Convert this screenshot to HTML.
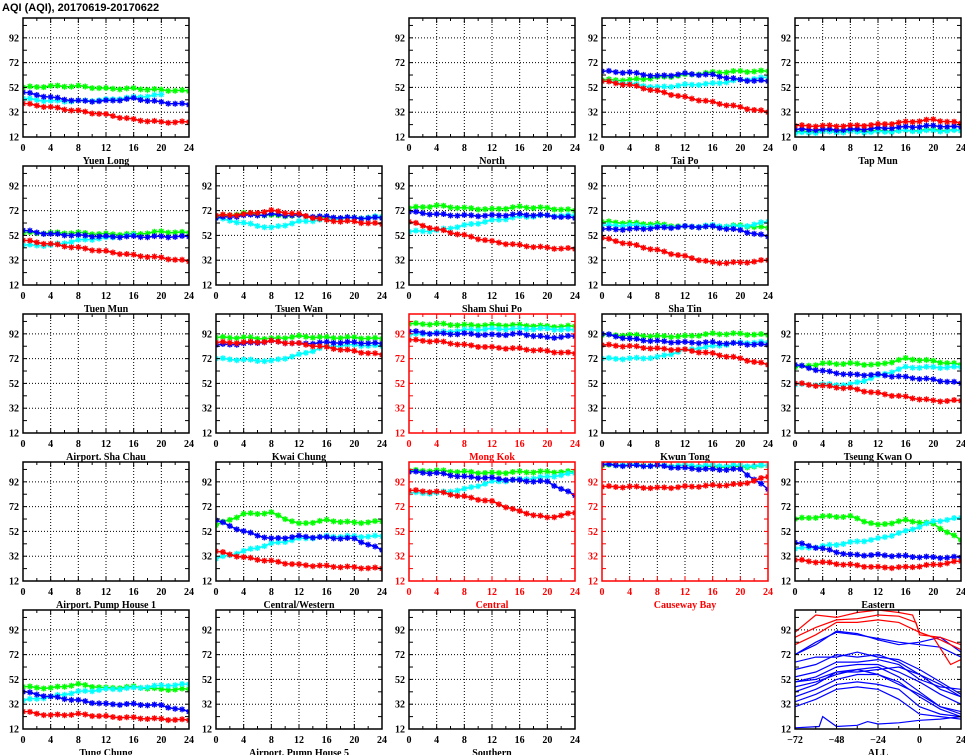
<!DOCTYPE html>
<html><head><meta charset="utf-8"><style>
body{margin:0;background:#fff;}
svg{display:block;font-family:"Liberation Serif",serif;font-weight:bold;}
</style></head><body>
<svg id="s" width="965" height="755" xmlns="http://www.w3.org/2000/svg"></svg>
<script>
const S=document.getElementById('s');let h='';
h+='<text x="2" y="11" font-size="11" font-family="Liberation Sans,sans-serif">AQI (AQI), 20170619-20170622</text>';
const colX=[23,216,409,602,795],rowY=[18,166,314,462,610],W=166,H=119;
const Y0=12,Y1=108;
const P=[
[0,0,'Yuen Long',0,{g:[52,53,53,51,51,50,49],b:[48,44,41,41,43,40,38],c:[43,41,41,42,44,46],r:[39,36,33,30,26,24,24]}],
[0,2,'North',0,null],
[0,3,'Tai Po',0,{g:[58,58,60,62,64,65,65],b:[65,64,61,63,62,58,57],c:[57,55,52,54,55,58,60],r:[57,54,49,44,40,36,32]}],
[0,4,'Tap Mun',0,{g:[16,17,17,17,17,18,17],c:[15,16,16,16,17,17,17],b:[18,18,18,19,20,21,20],r:[21,21,21,22,24,26,23]}],
[1,0,'Tuen Mun',0,{g:[54,54,54,53,53,55,54],c:[44,44,48,50,52],b:[56,53,52,51,51,51,51],r:[48,45,42,39,36,34,31]}],
[1,1,'Tsuen Wan',0,{g:[67,70,68,68,66,66,67],c:[66,62,58,63,65,66,67],b:[66,68,69,68,67,66,66],r:[68,69,72,69,64,63,61]}],
[1,2,'Sham Shui Po',0,{g:[74,76,74,73,75,74,72],c:[55,56,60,64,67,68,68],b:[71,69,68,68,69,68,66],r:[63,57,52,47,44,42,41]}],
[1,3,'Sha Tin',0,{g:[63,62,61,59,59,60,58],c:[60,60,59,59,60,59,63],b:[57,57,58,59,59,56,51],r:[50,45,40,35,30,30,32]}],
[2,0,'Airport. Sha Chau',0,null],
[2,1,'Kwai Chung',0,{g:[89,89,88,90,89,89,88],c:[72,71,70,75,82,83,82],b:[83,84,86,84,85,85,84],r:[85,85,86,84,81,78,75]}],
[2,2,'Mong Kok',1,{g:[100,100,99,99,99,98,98],c:[91,93,95,96,96,96,95],b:[94,92,92,91,92,89,90],r:[87,86,83,81,80,78,76]}],
[2,3,'Kwun Tong',0,{g:[91,91,90,90,92,92,91],c:[72,72,73,79,82,85,85],b:[92,88,86,85,85,84,83],r:[83,82,80,79,76,72,67]}],
[2,4,'Tseung Kwan O',0,{g:[65,68,68,67,72,70,67],c:[51,51,51,58,65,65,65],b:[67,62,59,59,57,55,52],r:[52,50,48,44,41,38,38]}],
[3,0,'Airport. Pump House 1',0,null],
[3,1,'Central/Western',0,{g:[57,66,67,58,61,59,60],c:[30,36,42,46,48,48,48],b:[61,52,46,48,47,46,37],r:[36,31,28,25,24,23,22]}],
[3,2,'Central',1,{c:[83,83,86,92,94,96,99],g:[101,101,100,99,100,100,100],b:[100,99,96,95,93,92,81],r:[85,84,80,76,68,63,67]}],
[3,3,'Causeway Bay',1,{c:[106,106,105,105,105,105,105],g:[105,106,105,105,104,104,105],b:[106,105,105,103,102,102,86],r:[88,88,87,88,89,90,96]}],
[3,4,'Eastern',0,{g:[62,64,64,57,61,58,45],c:[38,40,43,46,52,60,63],b:[43,38,33,33,32,31,31],r:[29,27,25,23,23,25,28]}],
[4,0,'Tung Chung',0,{c:[35,38,42,44,45,47,48],g:[46,45,48,45,46,44,44],b:[42,38,35,32,32,31,26],r:[26,23,24,22,21,20,19]}],
[4,1,'Airport. Pump House 5',0,null],
[4,2,'Southern',0,null],
];
const col={g:'#00ff00',c:'#00ffff',b:'#0000ff',r:'#ff0000'};
function interp(a,t){const n=(a.length-1)*4;if(t>n)return null;const i=Math.min(Math.floor(t/4),a.length-2);const f=(t-i*4)/4;return a[i]+(a[i+1]-a[i])*f+Math.sin(t*1.7)*0.6;}
function frame(x,y,nd){let o='';
 o+=`<svg x="${x}" y="${y}" width="${W}" height="${H}" overflow="hidden">`;
 for(let i=1;i<nd;i++){const gx=i*W/nd;o+=`<line x1="${gx}" y1="0" x2="${gx}" y2="${H}" stroke="#000" stroke-width="1" stroke-dasharray="1,2"/>`;}
 for(let v=32;v<=92;v+=20){const gy=H-(v-Y0)/(Y1-Y0)*H;o+=`<line x1="0" y1="${gy}" x2="${W}" y2="${gy}" stroke="#000" stroke-width="1" stroke-dasharray="1,2"/>`;}
 return o;}
function frameEnd(x,y,red,xt,nminor){const c=red?'#ff0000':'#000';let o='</svg>';
 o+=`<rect x="${x}" y="${y}" width="${W}" height="${H}" fill="none" stroke="${c}" stroke-width="1.5"/>`;
 for(let i=0;i<=nminor;i++){const tx=x+i*W/nminor,l=i%2?3:5;o+=`<line x1="${tx}" y1="${y}" x2="${tx}" y2="${y+l}" stroke="${c}"/><line x1="${tx}" y1="${y+H}" x2="${tx}" y2="${y+H-l}" stroke="${c}"/>`;}
 for(let v=12;v<=108;v+=10){const ty=y+H-(v-Y0)/(Y1-Y0)*H;o+=`<line x1="${x}" y1="${ty}" x2="${x+4}" y2="${ty}" stroke="${c}"/><line x1="${x+W}" y1="${ty}" x2="${x+W-4}" y2="${ty}" stroke="${c}"/>`;}
 for(let v=12;v<=92;v+=20){const ty=y+H-(v-Y0)/(Y1-Y0)*H;o+=`<text x="${x-4}" y="${ty+3.5}" font-size="10" text-anchor="end" fill="${c}">${v}</text>`;}
 xt.forEach((t,i)=>{o+=`<text x="${x+i*W/(xt.length-1)}" y="${y+H+14}" font-size="10" text-anchor="middle" fill="${c}">${t}</text>`;});
 return o;}
P.forEach(([r,cI,name,red,d])=>{const x=colX[cI],y=rowY[r];
 h+=frame(x,y,6);
 if(d){for(const k of ['g','c','b','r']){if(!d[k])continue;const a=d[k];let pts=[],mk='';
  for(let t=0;t<=24;t++){const v=interp(a,t);if(v==null)break;const px=t*W/24,py=H-(v-Y0)/(Y1-Y0)*H;pts.push(px.toFixed(1)+','+py.toFixed(1));
   mk+=`M${px-3},${py}h6M${px},${py-3}v6M${px-2.2},${py-2.2}l4.4,4.4M${px-2.2},${py+2.2}l4.4,-4.4`;}
  h+=`<polyline points="${pts.join(' ')}" fill="none" stroke="${col[k]}" stroke-width="1.5"/><path d="${mk}" stroke="${col[k]}" stroke-width="1.3" fill="none"/>`;}}
 h+=frameEnd(x,y,red,[0,4,8,12,16,20,24],12);
 h+=`<text x="${x+W/2}" y="${y+H+27}" font-size="10" text-anchor="middle" fill="${red?'#ff0000':'#000'}">${name}</text>`;
});
{const x=colX[4],y=rowY[4];h+=frame(x,y,4);
 function ln(pts,c){let s=pts.map(([t,v])=>{const px=(t+72)/96*W,py=H-(v-Y0)/(Y1-Y0)*H;return px.toFixed(1)+','+py.toFixed(1);}).join(' ');h+=`<polyline points="${s}" fill="none" stroke="${c}" stroke-width="1.2"/>`;}
 const B='#0000ff',R='#ff0000';
 ln([[-72,72],[-60,82],[-48,90],[-36,88],[-24,85],[-12,82],[0,80],[12,78],[24,70]],B);
 ln([[-72,72],[-60,80],[-48,91],[-36,89],[-24,84],[-12,80],[0,82],[12,86],[24,74]],B);
 ln([[-72,66],[-60,70],[-48,70],[-36,74],[-24,70],[-12,68],[0,60],[12,50],[24,40]],B);
 ln([[-72,60],[-60,64],[-48,72],[-36,70],[-24,72],[-12,66],[0,56],[12,44],[24,38]],B);
 ln([[-72,54],[-60,58],[-48,66],[-36,66],[-24,68],[-12,64],[0,52],[12,46],[24,44]],B);
 ln([[-72,50],[-60,54],[-48,62],[-36,64],[-24,64],[-12,58],[0,50],[12,40],[24,32]],B);
 ln([[-72,46],[-60,50],[-48,56],[-36,60],[-24,62],[-12,54],[0,42],[12,30],[24,26]],B);
 ln([[-72,42],[-60,48],[-48,58],[-36,60],[-24,56],[-12,48],[0,40],[12,30],[24,24]],B);
 ln([[-72,38],[-60,44],[-48,52],[-36,56],[-24,56],[-12,50],[0,38],[12,28],[24,22]],B);
 ln([[-72,34],[-60,40],[-48,48],[-36,50],[-24,48],[-12,44],[0,30],[12,24],[24,22]],B);
 ln([[-72,30],[-60,36],[-48,44],[-36,46],[-24,44],[-12,36],[0,24],[12,22],[24,20]],B);
 ln([[-72,50],[-60,52],[-48,58],[-36,58],[-24,60],[-12,62],[0,56],[12,48],[24,38]],B);
 ln([[-72,13],[-58,14],[-56,22],[-48,14],[-36,15],[-30,18],[-24,16],[-12,17],[0,19],[12,20],[24,22]],B);
 ln([[-72,86],[-60,94],[-48,100],[-36,101],[-24,104],[-12,103],[-2,98],[0,88],[12,86],[24,80]],R);
 ln([[-72,80],[-60,88],[-48,98],[-36,98],[-24,100],[-12,98],[0,90],[12,84],[24,76]],R);
 ln([[-72,90],[-60,104],[-48,102],[-36,106],[-24,108],[-12,106],[-4,104],[0,90],[8,86],[18,64],[24,68]],R);
 h+=frameEnd(x,y,0,['−72','−48','−24','0','24'],8);
 h+=`<text x="${x+W/2}" y="${y+H+27}" font-size="10" text-anchor="middle">ALL</text>`;
}
S.innerHTML=h;
</script>
</body></html>
